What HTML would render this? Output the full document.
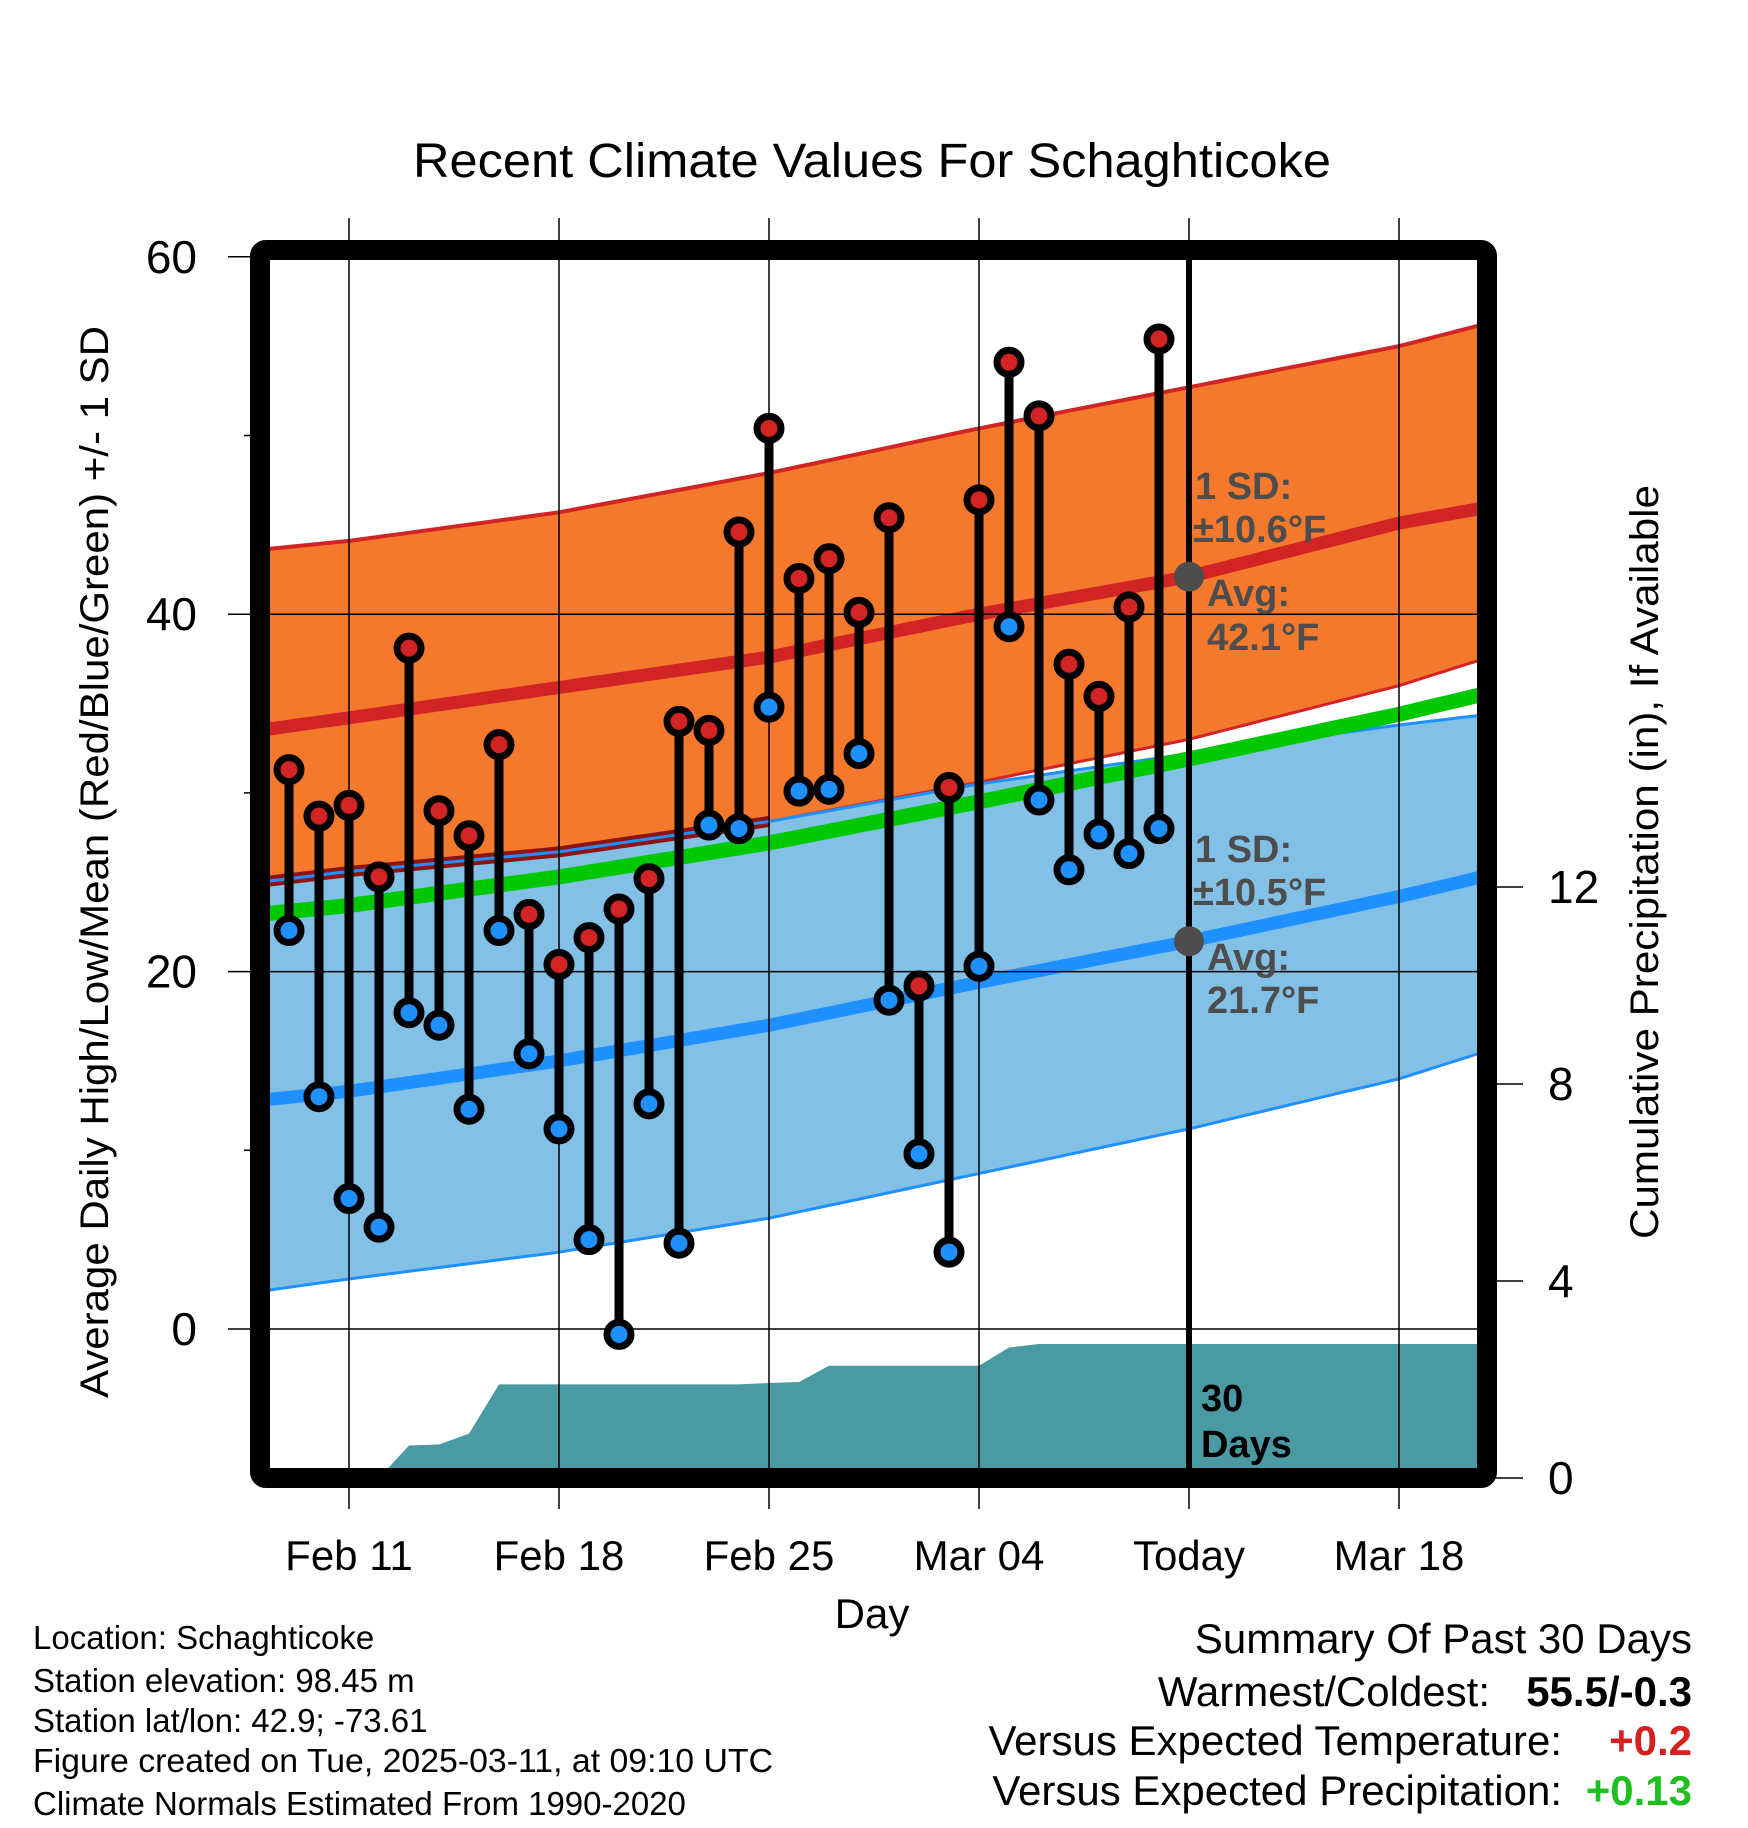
<!DOCTYPE html>
<html><head><meta charset="utf-8"><style>
html,body{margin:0;padding:0;background:#fff;}
svg{display:block;font-family:"Liberation Sans",sans-serif;}
</style></head><body>
<svg id="chart" width="1748" height="1828" viewBox="0 0 1748 1828">
<defs><clipPath id="plotclip"><rect x="270" y="259" width="1208" height="1209"/></clipPath>
<clipPath id="leftclip"><rect x="270" y="259" width="500" height="1209"/></clipPath></defs>
<rect x="0" y="0" width="1748" height="1828" fill="#fff"/>
<text x="872" y="177" font-size="48" text-anchor="middle" textLength="918" lengthAdjust="spacingAndGlyphs">Recent Climate Values For Schaghticoke</text>
<g id="bands" clip-path="url(#plotclip)"></g>
<g id="grid"></g>
<g id="marks"></g>
<g id="annot"></g>
<rect x="260" y="250" width="1227" height="1228" rx="6" fill="none" stroke="#000" stroke-width="20"/>
<text x="872" y="1628" font-size="42" text-anchor="middle">Day</text>
<text transform="translate(108,862) rotate(-90)" font-size="40" text-anchor="middle" textLength="1072" lengthAdjust="spacingAndGlyphs">Average Daily High/Low/Mean (Red/Blue/Green) +/- 1 SD</text>
<text transform="translate(1658,862) rotate(-90)" font-size="40" text-anchor="middle" textLength="754" lengthAdjust="spacingAndGlyphs">Cumulative Precipitation (in), If Available</text>
<g font-size="33">
<text x="33" y="1649">Location: Schaghticoke</text>
<text x="33" y="1692">Station elevation: 98.45 m</text>
<text x="33" y="1732">Station lat/lon: 42.9; -73.61</text>
<text x="33" y="1772" textLength="740" lengthAdjust="spacingAndGlyphs">Figure created on Tue, 2025-03-11, at 09:10 UTC</text>
<text x="33" y="1815">Climate Normals Estimated From 1990-2020</text>
</g>
<g font-size="42" text-anchor="end">
<text x="1692" y="1653">Summary Of Past 30 Days</text>
<text x="1490" y="1706">Warmest/Coldest:</text>
<text x="1692" y="1706" font-weight="bold">55.5/-0.3</text>
<text x="1562" y="1755">Versus Expected Temperature:</text>
<text x="1692" y="1755" font-weight="bold" fill="#d62020">+0.2</text>
<text x="1562" y="1805">Versus Expected Precipitation:</text>
<text x="1692" y="1805" font-weight="bold" fill="#1ec01e">+0.13</text>
</g>
</svg>
<script>
// ---- data ----
const obsDays = [-2,-1,0,1,2,3,4,5,6,7,8,9,10,11,12,13,14,15,16,17,18,19,20,21,22,23,24,25,26,27];
const highs = [31.3,28.7,29.3,25.3,38.1,29.0,27.6,32.7,23.2,20.4,21.9,23.5,25.2,34.0,33.5,44.6,50.4,42.0,43.1,40.1,45.4,19.2,30.3,46.4,54.1,51.1,37.2,35.4,40.4,55.4];
const lows = [22.3,13.0,7.3,5.7,17.7,17.0,12.3,22.3,15.4,11.2,5.0,-0.3,12.6,4.8,28.2,28.0,34.8,30.1,30.2,32.2,18.4,9.8,4.3,20.3,39.3,29.6,25.7,27.7,26.6,28.0];
const precip = [0,0,0,0,0.66,0.68,0.9,1.9,1.9,1.9,1.9,1.9,1.9,1.9,1.9,1.9,1.93,1.95,2.28,2.28,2.28,2.28,2.28,2.28,2.65,2.72,2.72,2.72,2.72,2.72];
const normDays = [-3,0,7,14,21,28,35,38];
const highMean = [33.5,34.2,35.9,37.6,40.0,42.1,45.1,46.0];
const highUpper = [43.6,44.1,45.7,47.9,50.4,52.7,55.0,56.3];
const highLower = [25.0,25.6,26.7,28.4,30.6,33.0,36.0,37.6];
const lowMean = [12.8,13.3,15.0,17.0,19.4,21.7,24.2,25.4];
const lowUpper = [25.0,25.6,26.7,28.4,30.5,32.2,33.8,34.4];
const lowLower = [2.1,2.8,4.3,6.2,8.7,11.2,14.0,15.6];
const meanMean = [23.2,23.7,25.3,27.2,29.5,31.9,34.4,35.6];
const xTickDays = [0,7,14,21,28,35];
const xTickLabels = ["Feb 11","Feb 18","Feb 25","Mar 04","Today","Mar 18"];
const yTicks = [0,20,40,60];
const yMinor = [10,30,50];
const pTicks = [0,4,8,12];
const todayDay = 28;
const todayHigh = 42.1, todayLow = 21.7;

// ---- scales ----
const X = d => 349 + 30*d;
const Y = v => 1329 - 17.87*v;
const P = p => 1478 - 49.25*p;
const NS = "http://www.w3.org/2000/svg";
function mk(tag, parent, attrs){const e=document.createElementNS(NS,tag);for(const k in attrs)e.setAttribute(k,attrs[k]);parent.appendChild(e);return e;}
function interp(arr, d){for(let i=0;i<normDays.length-1;i++){if(d<=normDays[i+1]){const t=(d-normDays[i])/(normDays[i+1]-normDays[i]);return arr[i]+t*(arr[i+1]-arr[i]);}}return arr[arr.length-1];}
const fine=[];for(let d=-3;d<=38.01;d+=0.5)fine.push(d);
function linePts(arr){return fine.map(d=>X(d).toFixed(1)+","+Y(interp(arr,d)).toFixed(1)).join(" ");}
function bandPts(up,lo){return linePts(up)+" "+fine.slice().reverse().map(d=>X(d).toFixed(1)+","+Y(interp(lo,d)).toFixed(1)).join(" ");}

const bands=document.getElementById('bands');
let e;
e=mk('polygon',bands,{points:bandPts(highUpper,highLower),fill:'#f4792d'});


e=mk('polygon',bands,{points:bandPts(lowUpper,lowLower),fill:'#82c0e6'});


const darkG=mk('g',bands,{'clip-path':'url(#leftclip)'});
e=mk('polyline',darkG,{points:linePts(highLower),fill:'none',stroke:'#8e1414','stroke-width':11});


e=mk('polyline',bands,{points:linePts(highUpper),fill:'none',stroke:'#d22424','stroke-width':4});


e=mk('polyline',bands,{points:linePts(highLower),fill:'none',stroke:'#d22424','stroke-width':3});


e=mk('polyline',bands,{points:linePts(lowUpper),fill:'none',stroke:'#1e90ff','stroke-width':3});


e=mk('polyline',bands,{points:linePts(lowLower),fill:'none',stroke:'#1e90ff','stroke-width':3});


e=mk('polyline',bands,{points:linePts(meanMean),fill:'none',stroke:'#00c800','stroke-width':15});


e=mk('polyline',bands,{points:linePts(highMean),fill:'none',stroke:'#d22424','stroke-width':13});


e=mk('polyline',bands,{points:linePts(lowMean),fill:'none',stroke:'#1e90ff','stroke-width':13});


// precipitation area
let pp=[X(-3)+","+P(0)];
obsDays.forEach((d,i)=>pp.push(X(d)+","+P(precip[i])));
pp.push(X(38)+","+P(precip[precip.length-1]));pp.push(X(38)+","+P(0));
e=mk('polygon',bands,{points:pp.join(" "),fill:'#4a9aa3'});



// grid
const grid=document.getElementById('grid');
xTickDays.forEach((d,i)=>{
  e=mk('line',grid,{x1:X(d),x2:X(d),y1:218,y2:1509,stroke:'#000','stroke-width':1.5});
  
  
  e=mk('text',grid,{x:X(d),y:1570,'font-size':42,'text-anchor':'middle'});
  e.textContent=xTickLabels[i];
  
  
});
yTicks.forEach(v=>{
  e=mk('line',grid,{x1:228,x2:1478,y1:Y(v),y2:Y(v),stroke:'#000','stroke-width':1.5});
  
  
  e=mk('text',grid,{x:197,y:Y(v)+16,'font-size':46,'text-anchor':'end'});
  e.textContent=String(v);
  
  
});
yMinor.forEach(v=>{
  e=mk('line',grid,{x1:244,x2:262,y1:Y(v),y2:Y(v),stroke:'#000','stroke-width':1.5});
  
  
});
pTicks.forEach(p=>{
  e=mk('line',grid,{x1:1487,x2:1523,y1:P(p),y2:P(p),stroke:'#000','stroke-width':1.5});
  
  
  e=mk('text',grid,{x:1548,y:P(p)+16,'font-size':46});
  e.textContent=String(p);
  
  
});
e=mk('line',grid,{x1:X(todayDay),x2:X(todayDay),y1:259,y2:1468,stroke:'#000','stroke-width':6});



// observations
const marks=document.getElementById('marks');
obsDays.forEach((d,i)=>{
  e=mk('line',marks,{x1:X(d),x2:X(d),y1:Y(highs[i]),y2:Y(lows[i]),stroke:'#000','stroke-width':9});
  
  
});
obsDays.forEach((d,i)=>{
  e=mk('circle',marks,{cx:X(d),cy:Y(highs[i]),r:12,fill:'#d22424',stroke:'#000','stroke-width':7});
  
  
  e=mk('circle',marks,{cx:X(d),cy:Y(lows[i]),r:12,fill:'#1e90ff',stroke:'#000','stroke-width':7});
  
  
});

// annotations
const an=document.getElementById('annot');
e=mk('circle',an,{cx:X(todayDay),cy:Y(todayHigh),r:15,fill:'#4d4d4d'});


e=mk('circle',an,{cx:X(todayDay),cy:Y(todayLow),r:15,fill:'#4d4d4d'});


const notes=[["1 SD:",1195,499],["\u00b110.6\u00b0F",1193,542],["Avg:",1207,606],["42.1\u00b0F",1207,650],
             ["1 SD:",1195,862],["\u00b110.5\u00b0F",1193,905],["Avg:",1207,970],["21.7\u00b0F",1207,1013]];
notes.forEach(n=>{
  e=mk('text',an,{x:n[1],y:n[2],'font-size':38,'font-weight':'bold',fill:'#4d4d4d'});
  e.textContent=n[0];
  
  
});
e=mk('text',an,{x:1201,y:1411,'font-size':38,'font-weight':'bold',fill:'#000'});
e.textContent="30";


e=mk('text',an,{x:1201,y:1457,'font-size':38,'font-weight':'bold',fill:'#000'});
e.textContent="Days";


</script>
</body></html>
